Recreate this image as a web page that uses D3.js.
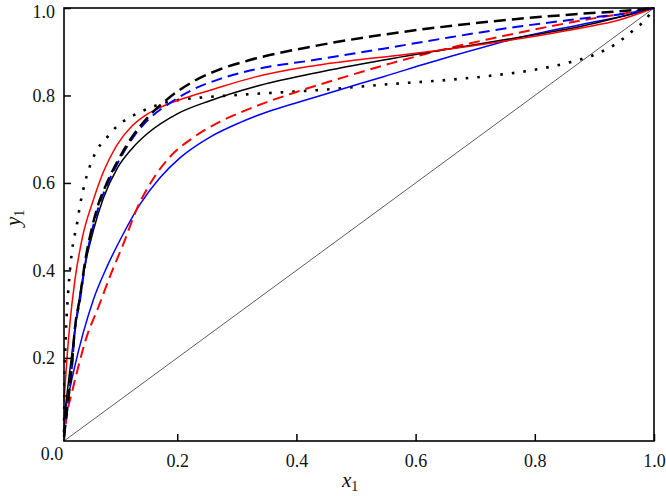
<!DOCTYPE html>
<html><head><meta charset="utf-8">
<script src="https://cdn.jsdelivr.net/npm/d3@7"></script>
<style>
body{margin:0;background:#fff;}
svg text{font-family:"Liberation Serif","Times New Roman",Times,serif !important;}
</style></head>
<body><svg id="c" width="666" height="496" font-family="Liberation Serif"></svg>
<script>
const xTicks = [0.2, 0.4, 0.6, 0.8, 1.0];
const yTicks = [0.2, 0.4, 0.6, 0.8, 1.0];
const cornerLabel = "0.0";

const diagonal = [[0.01,0.01],[1,1]];
const blackDotted = [[0.01,0.03],[0.011,0.15],[0.013,0.25],[0.016,0.33],[0.02,0.40],[0.025,0.46],[0.031,0.50],[0.037,0.55],[0.045,0.6],[0.061,0.664],[0.084,0.707],[0.099,0.73],[0.118,0.748],[0.138,0.762],[0.171,0.78],[0.199,0.789],[0.238,0.795],[0.277,0.799],[0.322,0.803],[0.434,0.812],[0.557,0.826],[0.658,0.836],[0.725,0.845],[0.792,0.857],[0.859,0.876],[0.898,0.892],[0.936,0.918],[0.968,0.952],[0.985,0.972],[1,1]];
const redSolid = [[0.01,0.10],[0.015,0.2],[0.02,0.28],[0.028,0.375],[0.04,0.47],[0.059,0.56],[0.076,0.625],[0.098,0.685],[0.124,0.73],[0.149,0.757],[0.177,0.776],[0.21,0.793],[0.255,0.812],[0.33,0.842],[0.42,0.866],[0.5,0.881],[0.58,0.893],[0.66,0.907],[0.77,0.929],[0.88,0.955],[0.94,0.972],[1,1]];
const blackSolid = [[0.01,0.06],[0.017,0.14],[0.025,0.23],[0.034,0.32],[0.045,0.41],[0.059,0.49],[0.076,0.565],[0.1,0.635],[0.125,0.68],[0.15,0.713],[0.2,0.758],[0.255,0.788],[0.33,0.82],[0.434,0.852],[0.546,0.881],[0.658,0.907],[0.77,0.932],[0.88,0.959],[1,1]];
const blackDashed = [[0.01,0.02],[0.013,0.058],[0.017,0.104],[0.023,0.179],[0.028,0.264],[0.037,0.339],[0.045,0.417],[0.056,0.492],[0.068,0.553],[0.079,0.591],[0.1,0.65],[0.132,0.72],[0.152,0.752],[0.182,0.79],[0.227,0.832],[0.272,0.86],[0.322,0.881],[0.434,0.914],[0.546,0.939],[0.658,0.959],[0.77,0.975],[0.88,0.987],[0.965,0.995],[1,1]];
const blueDashed = [[0.01,0.02],[0.013,0.055],[0.017,0.1],[0.023,0.175],[0.028,0.258],[0.037,0.333],[0.045,0.41],[0.056,0.485],[0.068,0.545],[0.079,0.585],[0.1,0.645],[0.129,0.71],[0.154,0.748],[0.188,0.783],[0.227,0.814],[0.272,0.838],[0.322,0.857],[0.434,0.882],[0.546,0.907],[0.658,0.933],[0.77,0.957],[0.88,0.976],[0.965,0.99],[1,1]];
const redDashed = [[0.01,0.01],[0.0145,0.066],[0.023,0.119],[0.034,0.18],[0.048,0.248],[0.068,0.317],[0.087,0.386],[0.11,0.462],[0.132,0.54],[0.16,0.61],[0.188,0.66],[0.227,0.704],[0.272,0.74],[0.322,0.77],[0.40,0.808],[0.48,0.842],[0.56,0.874],[0.64,0.903],[0.72,0.928],[0.8,0.951],[0.88,0.972],[0.96,0.99],[1,1]];
const blueSolid = [[0.01,0.03],[0.012,0.074],[0.017,0.111],[0.028,0.18],[0.042,0.256],[0.059,0.332],[0.082,0.408],[0.11,0.485],[0.138,0.552],[0.171,0.612],[0.205,0.658],[0.255,0.705],[0.305,0.738],[0.33,0.752],[0.434,0.797],[0.546,0.843],[0.658,0.889],[0.77,0.931],[0.88,0.963],[0.965,0.987],[1,1]];

const series = [
  {data: diagonal, color: "#333", width: 0.8, dash: null},
  {data: blackDotted, color: "#000", width: 2.6, dash: "2.6,9"},
  {data: blueSolid, color: "#0000ff", width: 1.5, dash: null},
  {data: redDashed, color: "#ff0000", width: 2, dash: "11,6"},
  {data: blackSolid, color: "#000", width: 1.5, dash: null},
  {data: redSolid, color: "#ff0000", width: 1.5, dash: null},
  {data: blueDashed, color: "#0000ff", width: 2, dash: "11,6"},
  {data: blackDashed, color: "#000", width: 2.5, dash: "12,6"}
];

const FONT = '"Liberation Serif", "Times New Roman", Times, serif';
const svg = d3.select("#c");
const L = 64, R = 654, T = 8, B = 441;
const x = d3.scaleLinear().domain([0.01, 1]).range([L, R]);
const y = d3.scaleLinear().domain([0.01, 1]).range([B, T]);

const line = d3.line().x(d => x(d[0])).y(d => y(d[1])).curve(d3.curveMonotoneX);

const g = svg.append("g");
series.forEach(s => {
  g.append("path").attr("d", line(s.data)).attr("fill", "none")
    .attr("stroke", s.color).attr("stroke-width", s.width)
    .attr("stroke-dasharray", s.dash);
});

const xAxis = svg.append("g").attr("transform", `translate(0,${B})`)
  .call(d3.axisBottom(x).tickValues(xTicks).tickFormat(d3.format(".1f")).tickSizeInner(-7).tickSizeOuter(0).tickPadding(13));
const yAxis = svg.append("g").attr("transform", `translate(${L},0)`)
  .call(d3.axisLeft(y).tickValues(yTicks).tickFormat(d3.format(".1f")).tickSizeInner(-7).tickSizeOuter(0).tickPadding(9));
[xAxis, yAxis].forEach(a => {
  a.attr("font-family", FONT).attr("font-size", 18);
  a.select(".domain").remove();
  a.selectAll("line").attr("stroke", "#000").attr("stroke-width", 1.5);
  a.selectAll("text").attr("fill", "#111");
});
yAxis.selectAll(".tick").filter(d => d === 1).select("text").attr("dy", "0.5em");

svg.append("rect").attr("x", L).attr("y", T).attr("width", R - L).attr("height", B - T)
  .attr("fill", "none").attr("stroke", "#000").attr("stroke-width", 1.6);

svg.append("text").attr("x", 52).attr("y", 460).attr("text-anchor", "middle")
  .attr("font-family", FONT).attr("font-size", 18).attr("fill", "#111").text(cornerLabel);

const xl = svg.append("text").attr("x", 342).attr("y", 487).attr("font-family", FONT).attr("font-size", 21).attr("fill", "#111");
xl.append("tspan").attr("font-style", "italic").text("x");
xl.append("tspan").attr("font-size", 14).attr("dy", 4).text("1");

const yl = svg.append("text").attr("transform", "translate(20,226) rotate(-90)").attr("font-family", FONT).attr("font-size", 21).attr("fill", "#111");
yl.append("tspan").attr("font-style", "italic").text("y");
yl.append("tspan").attr("font-size", 14).attr("dy", 4).text("1");
</script></body></html>
